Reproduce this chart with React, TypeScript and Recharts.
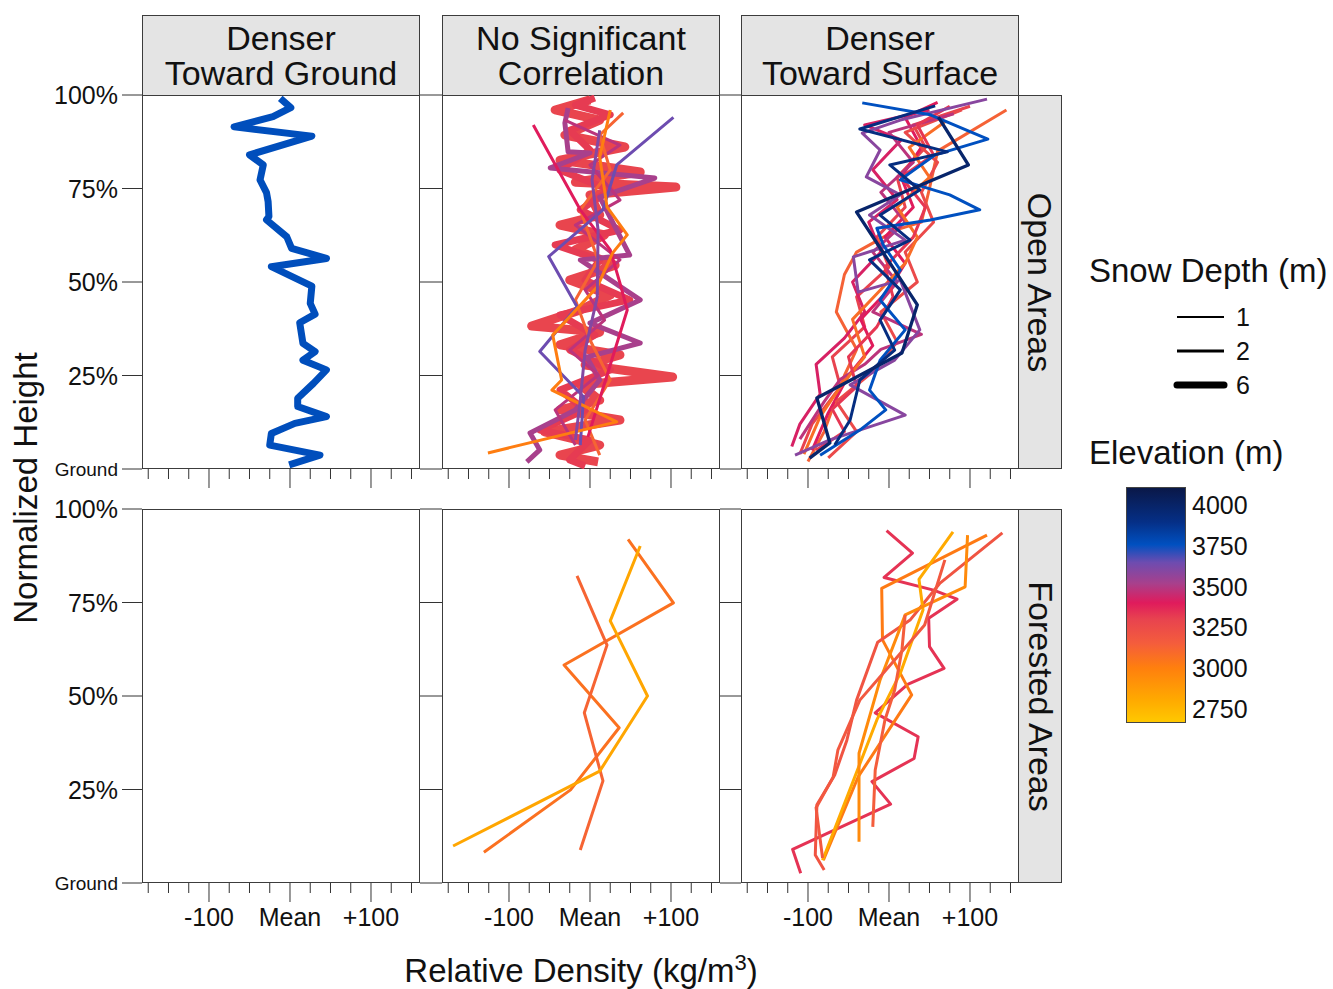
import React from "react";
import { ScatterChart, Scatter, XAxis, YAxis } from "recharts";

const FONT = '"Liberation Sans", Arial, Helvetica, sans-serif';

// axis ranges / ticks
const X_MIN = -182.7;
const X_MAX = 160.5;
const X_TICKS = [-175, -150, -125, -100, -75, -50, -25, 0, 25, 50, 75, 100, 125, 150];
const Y_TICKS = [0, 25, 50, 75, 100];

const COLUMN_LABELS = [
  ["Denser", "Toward Ground"],
  ["No Significant", "Correlation"],
  ["Denser", "Toward Surface"],
];
const ROW_LABELS = ["Open Areas", "Forested Areas"];
const DEPTH_LEGEND = [1, 2, 6];
const ELEV_LEGEND = [4000, 3750, 3500, 3250, 3000, 2750];

type Pair = [number, number]; // [relative density, normalized height %]

// ---- Open areas, denser toward ground
const openGround1: Pair[] = [
  [-12, 99.1], [1, 96.6], [-21, 94.2], [-69, 91.5], [27, 89.0], [-50, 84.0], [-33, 81.3],
  [-37, 77.3], [-29, 73.9], [-27, 71.5], [-26, 67.5], [-29, 66.6], [-4, 62.1], [2, 59.0],
  [45, 56.3], [-23, 54.1], [27, 48.9], [25, 44.3], [31, 41.4], [12, 39.1], [16, 33.6],
  [31, 31.4], [16, 29.1], [45, 26.5], [29, 22.9], [9.5, 18.9], [9.5, 16.7], [45, 14.0],
  [6, 12.2], [-23, 9.5], [-25, 6.4], [37, 3.7], [-1, 1.1],
];

// ---- Open areas, no significant correlation
const openNone1: Pair[] = [
  [0, 98.7], [-43, 96.0], [12, 93.3], [-31, 89.3], [43, 86.1], [-37, 82.6], [62, 79.4],
  [-18, 76.7], [106, 75.4], [0, 73.3], [12, 67.9], [-37, 65.2], [18, 62.6], [-18, 58.6],
  [31, 54.5], [-25, 50.5], [25, 46.5], [-12, 42.5], [-72, 38.2], [12, 36.6], [-37, 33.2],
  [37, 30.5], [-6, 27.8], [102, 24.6], [-12, 22.5], [12, 18.4], [-37, 15.8], [37, 13.1],
  [-56, 9.9], [12, 6.4], [-37, 3.7], [10, 1.9],
];
const openNone2: Pair[] = [
  [6, 99.2], [-18, 97.3], [25, 94.7], [-25, 90.6], [0, 85.3], [-37, 79.9], [25, 74.6],
  [-12, 69.3], [37, 63.9], [-43, 59.9], [12, 55.9], [-6, 50.5], [49, 45.2], [-37, 41.2],
  [6, 35.8], [-25, 31.8], [25, 26.5], [-37, 21.1], [-6, 15.8], [-62, 10.4], [0, 7.8],
  [-25, 2.4], [-6, 0.8],
];
const openNone3: Pair[] = [
  [-27, 96.5], [-31, 92.5], [-27, 84.8], [0, 84.5], [-49, 80.5], [80, 77.8], [12, 72.7],
  [49, 57.2], [-12, 55.9], [62, 45.2], [0, 39.0], [62, 33.7], [-4, 29.9], [12, 23.8],
  [-18, 15.8], [-74, 9.6], [-62, 5.1], [-78, 1.9],
];
const openNone4: Pair[] = [
  [-31, 93.3], [37, 86.6], [0, 81.3], [37, 71.9], [-18, 65.2], [37, 55.9], [-6, 47.9],
  [18, 39.8], [-25, 31.8], [10, 25.1], [-43, 15.8], [-18, 6.4],
];
const openNone5: Pair[] = [
  [41, 95.2], [12, 89.3], [25, 79.9], [-12, 69.3], [10, 55.9], [-18, 45.2], [0, 34.5],
  [25, 23.8], [-6, 13.1], [12, 3.7],
];
const openNone6: Pair[] = [
  [-70, 92.0], [-12, 69.3], [25, 58.6], [37, 49.7], [46, 42.5], [-2.5, 8.6],
];
const openNone7: Pair[] = [
  [103, 94.0], [33, 81.3], [16, 69.3], [-51, 56.8], [-16, 43.4], [-62, 31.4], [-8, 19.3],
  [-12, 6.4],
];
const openNone8: Pair[] = [
  [25, 96.0], [12, 83.4], [21, 70.1], [46, 62.6], [28, 57.8], [9, 48.7], [-46, 35.8],
  [-35, 23.8], [-47, 21.1], [33, 12.6], [-126, 4.3],
];
const openNone9: Pair[] = [
  [12, 90.6], [2.5, 77.3], [10, 63.9], [9, 46.0], [-6, 31.8], [-12, 18.4], [-18, 7.8],
];

// ---- Open areas, denser toward surface
const openSurf1: Pair[] = [
  [-110, 4], [-95, 12], [-60, 22], [-70, 30], [-30, 38], [-40, 46], [0, 54], [-15, 62],
  [20, 70], [10, 78], [45, 86], [30, 92], [100, 97],
];
const openSurf2: Pair[] = [
  [-100, 2], [-80, 10], [-55, 25], [-40, 32], [-65, 42], [-55, 52], [-40, 58], [10, 64],
  [40, 66], [50, 75], [60, 85], [145, 96],
];
const openSurf3: Pair[] = [
  [-95, 5], [-75, 15], [-50, 25], [-20, 33], [-35, 40], [0, 48], [20, 55], [-5, 62],
  [30, 70], [15, 78], [40, 86], [20, 94], [60, 98],
];
const openSurf4: Pair[] = [
  [-120, 6], [-110, 12], [-85, 20], [-90, 28], [-55, 35], [-30, 42], [-45, 50], [-10, 58],
  [-25, 66], [10, 72], [-20, 80], [15, 88], [-30, 92], [50, 96],
];
const openSurf5: Pair[] = [
  [-75, 3], [-40, 10], [-65, 18], [-20, 26], [10, 34], [-10, 42], [35, 50], [20, 58],
  [55, 66], [40, 74], [60, 82], [20, 90], [90, 96],
];
const openSurf6: Pair[] = [
  [-110, 8], [-80, 18], [-60, 24], [-30, 28], [-10, 32], [40, 36], [-20, 42], [10, 50],
  [-20, 58], [20, 66], [-10, 74], [30, 82], [0, 90], [80, 95],
];
const openSurf7: Pair[] = [
  [-105, 4], [-85, 14], [-60, 22], [-30, 30], [-45, 40], [-10, 48], [20, 55], [35, 62],
  [10, 70], [50, 78], [25, 86], [70, 93],
];
const openSurf8: Pair[] = [
  [-90, 5], [-55, 10], [-70, 16], [-40, 22], [-50, 30], [-15, 38], [5, 46], [-5, 54],
  [30, 62], [45, 70], [15, 78], [55, 84], [35, 92], [75, 97],
];
const openSurf9: Pair[] = [
  [121, 98.9], [14, 93.3], [-33, 89.8], [-11, 85.3], [-28, 78.1], [14, 73.3], [-24, 67.9],
  [20, 61.2], [-44, 56.7], [-38, 47.3], [14, 50.5], [38, 37.2], [7, 29.1], [-48, 22.5],
  [20, 14.4], [-73, 7.8], [-116, 3.7],
];
const openSurf10: Pair[] = [
  [-33, 97.9], [51, 94.7], [122, 88.2], [57, 84.0], [14, 77.3], [75, 73.3], [112, 69.3],
  [51, 66.6], [-15, 64.4], [-7, 59.9], [14, 53.2], [-11, 45.2], [20, 37.2], [-11, 29.1],
  [-24, 21.1], [-4, 15.8], [-36, 10.4], [-85, 3.7],
];
const openSurf11: Pair[] = [
  [57, 97.1], [-36, 90.9], [72, 84.8], [1, 81.3], [38, 74.6], [-11, 67.9], [26, 61.2],
  [-24, 55.9], [14, 47.9], [-11, 39.8], [7, 31.8], [-36, 23.8], [-48, 13.1], [-67, 6.4],
];
const openSurf12: Pair[] = [
  [-98, 2.9], [-73, 7.0], [-89, 19.0], [16, 31.0], [35, 43.9], [-40, 68.7], [98, 81.3],
  [61, 94.1],
];

// ---- Forested areas, no significant correlation
const forestNone1: Pair[] = [
  [47, 91.9], [103, 74.9], [-32, 58.3], [36, 41.5], [-24, 24.9], [-131, 8.2],
];
const forestNone2: Pair[] = [
  [-16, 82.1], [21, 63.6], [-7, 45.5], [16, 27.3], [-12, 8.8],
];
const forestNone3: Pair[] = [
  [62, 90.1], [25, 70.1], [71, 50.0], [12, 29.9], [-169, 9.9],
];

// ---- Forested areas, denser toward surface
const forestSurf1: Pair[] = [
  [-3, 94.2], [29, 88.2], [-6, 81.7], [55, 78.3], [84, 75.9], [49, 70.8], [50, 63.2],
  [68, 57.4], [23, 53.1], [-17, 45.5], [36, 39.1], [31, 33.3], [-21, 27.1], [2, 21.1],
  [-119, 9.0], [-109, 2.6],
];
const forestSurf2: Pair[] = [
  [121, 93.0], [-9, 78.8], [-8, 65.0], [28, 50.3], [-38, 28.4], [-81, 6.1],
];
const forestSurf3: Pair[] = [
  [140, 93.6], [63, 80.2], [26, 70.3], [-14, 64.4], [-40, 48.9], [-52, 38.2], [-67, 28.9],
  [-89, 20.9], [-91, 7.5], [-80, 3.5],
];
const forestSurf4: Pair[] = [
  [79, 93.9], [37, 81.2], [42, 73.0], [14, 56.1], [-15, 43.6], [-82, 6.1],
];
const forestSurf5: Pair[] = [
  [97, 93.0], [94, 79.2], [20, 71.7], [-11, 54.3], [-37, 34.7], [-37, 11.0],
];
const forestSurf6: Pair[] = [
  [69, 86.4], [44, 69.0], [7, 59.6], [-36, 48.9], [-63, 35.6], [-69, 28.3], [-90, 20.1],
  [-82, 6.7],
];
const forestSurf7: Pair[] = [
  [20, 71.7], [16, 62.3], [7, 51.6], [-5, 43.6], [-17, 30.2], [-20, 15.0],
];

type Profile = { pts: Pair[]; elev: number; depth: number };

const PANELS: Profile[][][] = [
  [
    [{ pts: openGround1, elev: 3770, depth: 6 }],
    [
      { pts: openNone1, elev: 3290, depth: 8 },
      { pts: openNone2, elev: 3320, depth: 6 },
      { pts: openNone3, elev: 3520, depth: 4 },
      { pts: openNone4, elev: 3480, depth: 2 },
      { pts: openNone5, elev: 3120, depth: 2 },
      { pts: openNone6, elev: 3400, depth: 2 },
      { pts: openNone7, elev: 3650, depth: 2 },
      { pts: openNone8, elev: 3010, depth: 2 },
      { pts: openNone9, elev: 3600, depth: 2 },
    ],
    [
      { pts: openSurf1, elev: 3300, depth: 2 },
      { pts: openSurf2, elev: 3130, depth: 2 },
      { pts: openSurf3, elev: 3400, depth: 2 },
      { pts: openSurf4, elev: 3420, depth: 2 },
      { pts: openSurf5, elev: 3260, depth: 2 },
      { pts: openSurf6, elev: 3480, depth: 2 },
      { pts: openSurf7, elev: 3080, depth: 2 },
      { pts: openSurf8, elev: 3330, depth: 2 },
      { pts: openSurf9, elev: 3590, depth: 2 },
      { pts: openSurf10, elev: 3760, depth: 2 },
      { pts: openSurf11, elev: 3920, depth: 2 },
      { pts: openSurf12, elev: 3990, depth: 2.3 },
    ],
  ],
  [
    [],
    [
      { pts: forestNone1, elev: 3060, depth: 2 },
      { pts: forestNone2, elev: 3120, depth: 2 },
      { pts: forestNone3, elev: 2820, depth: 2 },
    ],
    [
      { pts: forestSurf1, elev: 3340, depth: 2 },
      { pts: forestSurf2, elev: 3020, depth: 2 },
      { pts: forestSurf3, elev: 3200, depth: 2 },
      { pts: forestSurf4, elev: 2800, depth: 2 },
      { pts: forestSurf5, elev: 2950, depth: 2 },
      { pts: forestSurf6, elev: 3180, depth: 2 },
      { pts: forestSurf7, elev: 3150, depth: 2 },
    ],
  ],
];

// elevation colour scale
const ELEV_MIN = 2665;
const ELEV_MAX = 4110;
const ELEV_STOPS: [number, string][] = [
  [2665, "#FFC800"],
  [2800, "#FFAA00"],
  [3000, "#FF7F0E"],
  [3150, "#F45D3C"],
  [3300, "#E8434F"],
  [3400, "#E01B5C"],
  [3520, "#A8408C"],
  [3650, "#6D4CB0"],
  [3760, "#0050C0"],
  [3900, "#052F86"],
  [4110, "#0A1848"],
];

function hexToRgb(h: string) {
  return [1, 3, 5].map((i) => parseInt(h.slice(i, i + 2), 16));
}

function elevColor(e: number) {
  if (e <= ELEV_STOPS[0][0]) return ELEV_STOPS[0][1];
  for (let i = 1; i < ELEV_STOPS.length; i++) {
    const [e1, c1] = ELEV_STOPS[i];
    const [e0, c0] = ELEV_STOPS[i - 1];
    if (e <= e1) {
      const t = (e - e0) / (e1 - e0);
      const a = hexToRgb(c0);
      const b = hexToRgb(c1);
      const m = a.map((v, k) => Math.round(v + (b[k] - v) * t));
      return `rgb(${m[0]},${m[1]},${m[2]})`;
    }
  }
  return ELEV_STOPS[ELEV_STOPS.length - 1][1];
}

const depthWidth = (d: number) => d + 1;

// layout
const COL_LEFT = [142, 442, 741];
const ROW_TOP = [95, 509];
const PW = 278;
const PH = 374;

const makeXTick = (labels: boolean) => (props: any) => {
  const { x, y, payload } = props;
  const v = payload.value;
  const major = v % 100 === 0;
  return (
    <g>
      <line x1={x} x2={x} y1={y} y2={y + (major ? 19 : 10)} stroke="#333" strokeWidth={1} />
      {labels && major && (
        <text x={x} y={y + 43} textAnchor="middle" fontSize={25} fill="#111" fontFamily={FONT}>
          {v === 0 ? "Mean" : v > 0 ? `+${v}` : `${v}`}
        </text>
      )}
    </g>
  );
};

const makeYTick = (len: number, labels: boolean) => (props: any) => {
  const { x, y, payload } = props;
  const v = payload.value;
  return (
    <g>
      <line x1={x - len} x2={x} y1={y} y2={y} stroke="#333" strokeWidth={1} />
      {labels && (
        <text
          x={x - len - 4}
          y={y}
          dy="0.36em"
          textAnchor="end"
          fontSize={v === 0 ? 19 : 25}
          fill="#111"
          fontFamily={FONT}
        >
          {v === 0 ? "Ground" : `${v}%`}
        </text>
      )}
    </g>
  );
};

const NoDot = () => <g />;

function Panel({ row, col }: { row: number; col: number }) {
  const left = COL_LEFT[col];
  const top = ROW_TOP[row];
  const yw = col === 0 ? 142 : col === 1 ? 22 : 21;
  const MT = 18;
  const MR = 6;
  const XH = 60;
  return (
    <>
      <div
        style={{
          position: "absolute",
          left,
          top,
          width: PW,
          height: PH,
          border: "1px solid #3c3c3c",
          boxSizing: "border-box",
        }}
      />
      <div style={{ position: "absolute", left: left - yw, top: top - MT }}>
        <ScatterChart
          width={yw + PW + MR}
          height={MT + PH + XH}
          margin={{ top: MT, right: MR, bottom: 0, left: 0 }}
        >
          <XAxis
            type="number"
            dataKey="x"
            domain={[X_MIN, X_MAX]}
            allowDataOverflow
            ticks={X_TICKS}
            interval={0}
            height={XH}
            tickSize={0}
            tickMargin={0}
            axisLine={false}
            tickLine={false}
            tick={makeXTick(row === 1)}
          />
          <YAxis
            type="number"
            dataKey="y"
            domain={[0, 100]}
            allowDataOverflow
            ticks={Y_TICKS}
            interval={0}
            width={yw}
            tickSize={0}
            tickMargin={0}
            axisLine={false}
            tickLine={false}
            tick={makeYTick(col === 0 ? 20 : yw, col === 0)}
          />
          {PANELS[row][col].map((p, i) => {
            const c = elevColor(p.elev);
            return (
              <Scatter
                key={i}
                data={p.pts.map(([x, y]) => ({ x, y }))}
                fill={c}
                line={{
                  stroke: c,
                  strokeWidth: depthWidth(p.depth),
                  strokeLinejoin: "round",
                  strokeLinecap: "butt",
                }}
                shape={NoDot}
                isAnimationActive={false}
              />
            );
          })}
        </ScatterChart>
      </div>
    </>
  );
}

const stripStyle: React.CSSProperties = {
  position: "absolute",
  background: "#E4E4E4",
  border: "1px solid #3c3c3c",
  boxSizing: "border-box",
  display: "flex",
  alignItems: "center",
  justifyContent: "center",
  fontSize: 34,
  color: "#111",
  textAlign: "center",
};

export default function App() {
  const gradStops = ELEV_STOPS.map(
    ([e, c]) => `${c} ${(((e - ELEV_MIN) / (ELEV_MAX - ELEV_MIN)) * 100).toFixed(1)}%`
  ).join(", ");
  const barTop = 487;
  const barH = 236;
  const elevY = (e: number) => barTop + barH - ((e - ELEV_MIN) / (ELEV_MAX - ELEV_MIN)) * barH;

  return (
    <div
      style={{
        position: "fixed",
        left: 0,
        top: 0,
        width: 1333,
        height: 989,
        background: "#fff",
        fontFamily: FONT,
        overflow: "hidden",
      }}
    >
      {COLUMN_LABELS.map((lines, c) => (
        <div key={c} style={{ ...stripStyle, left: COL_LEFT[c], top: 15, width: PW, height: 81, lineHeight: "35px" }}>
          <div>
            {lines.map((l) => (
              <div key={l}>{l}</div>
            ))}
          </div>
        </div>
      ))}
      {ROW_LABELS.map((l, r) => (
        <div key={l} style={{ ...stripStyle, left: COL_LEFT[2] + PW - 1, top: ROW_TOP[r], width: 44, height: PH }}>
          <div style={{ transform: "rotate(90deg)", whiteSpace: "nowrap" }}>{l}</div>
        </div>
      ))}

      {[0, 1].map((r) => [0, 1, 2].map((c) => <Panel key={`${r}-${c}`} row={r} col={c} />))}

      {/* axis titles */}
      <div
        style={{
          position: "absolute",
          left: 26,
          top: 488,
          transform: "translate(-50%, -50%) rotate(-90deg)",
          fontSize: 33,
          whiteSpace: "nowrap",
          color: "#111",
        }}
      >
        Normalized Height
      </div>
      <div
        style={{
          position: "absolute",
          left: 581,
          top: 971,
          transform: "translate(-50%, -50%)",
          fontSize: 33,
          whiteSpace: "nowrap",
          color: "#111",
        }}
      >
        Relative Density (kg/m<sup style={{ fontSize: 22, verticalAlign: "0.55em", lineHeight: 0 }}>3</sup>)
      </div>

      {/* legend: snow depth */}
      <div style={{ position: "absolute", left: 1089, top: 252, fontSize: 33, whiteSpace: "nowrap", color: "#111" }}>
        Snow Depth (m)
      </div>
      <svg style={{ position: "absolute", left: 1160, top: 300 }} width={120} height={100}>
        {DEPTH_LEGEND.map((d, i) => (
          <g key={d}>
            <line
              x1={17}
              x2={64}
              y1={17 + i * 34}
              y2={17 + i * 34}
              stroke="#000"
              strokeWidth={depthWidth(d)}
              strokeLinecap={d > 3 ? "round" : "butt"}
            />
            <text x={76} y={17 + i * 34} dy="0.36em" fontSize={25} fontFamily={FONT} fill="#111">
              {d}
            </text>
          </g>
        ))}
      </svg>

      {/* legend: elevation */}
      <div style={{ position: "absolute", left: 1089, top: 434, fontSize: 33, whiteSpace: "nowrap", color: "#111" }}>
        Elevation (m)
      </div>
      <div
        style={{
          position: "absolute",
          left: 1126,
          top: barTop,
          width: 60,
          height: barH,
          background: `linear-gradient(to top, ${gradStops})`,
          border: "1px solid #444",
          boxSizing: "border-box",
        }}
      />
      {ELEV_LEGEND.map((e) => (
        <div
          key={e}
          style={{
            position: "absolute",
            left: 1192,
            top: elevY(e),
            transform: "translateY(-50%)",
            fontSize: 25,
            color: "#111",
          }}
        >
          {e}
        </div>
      ))}
    </div>
  );
}
